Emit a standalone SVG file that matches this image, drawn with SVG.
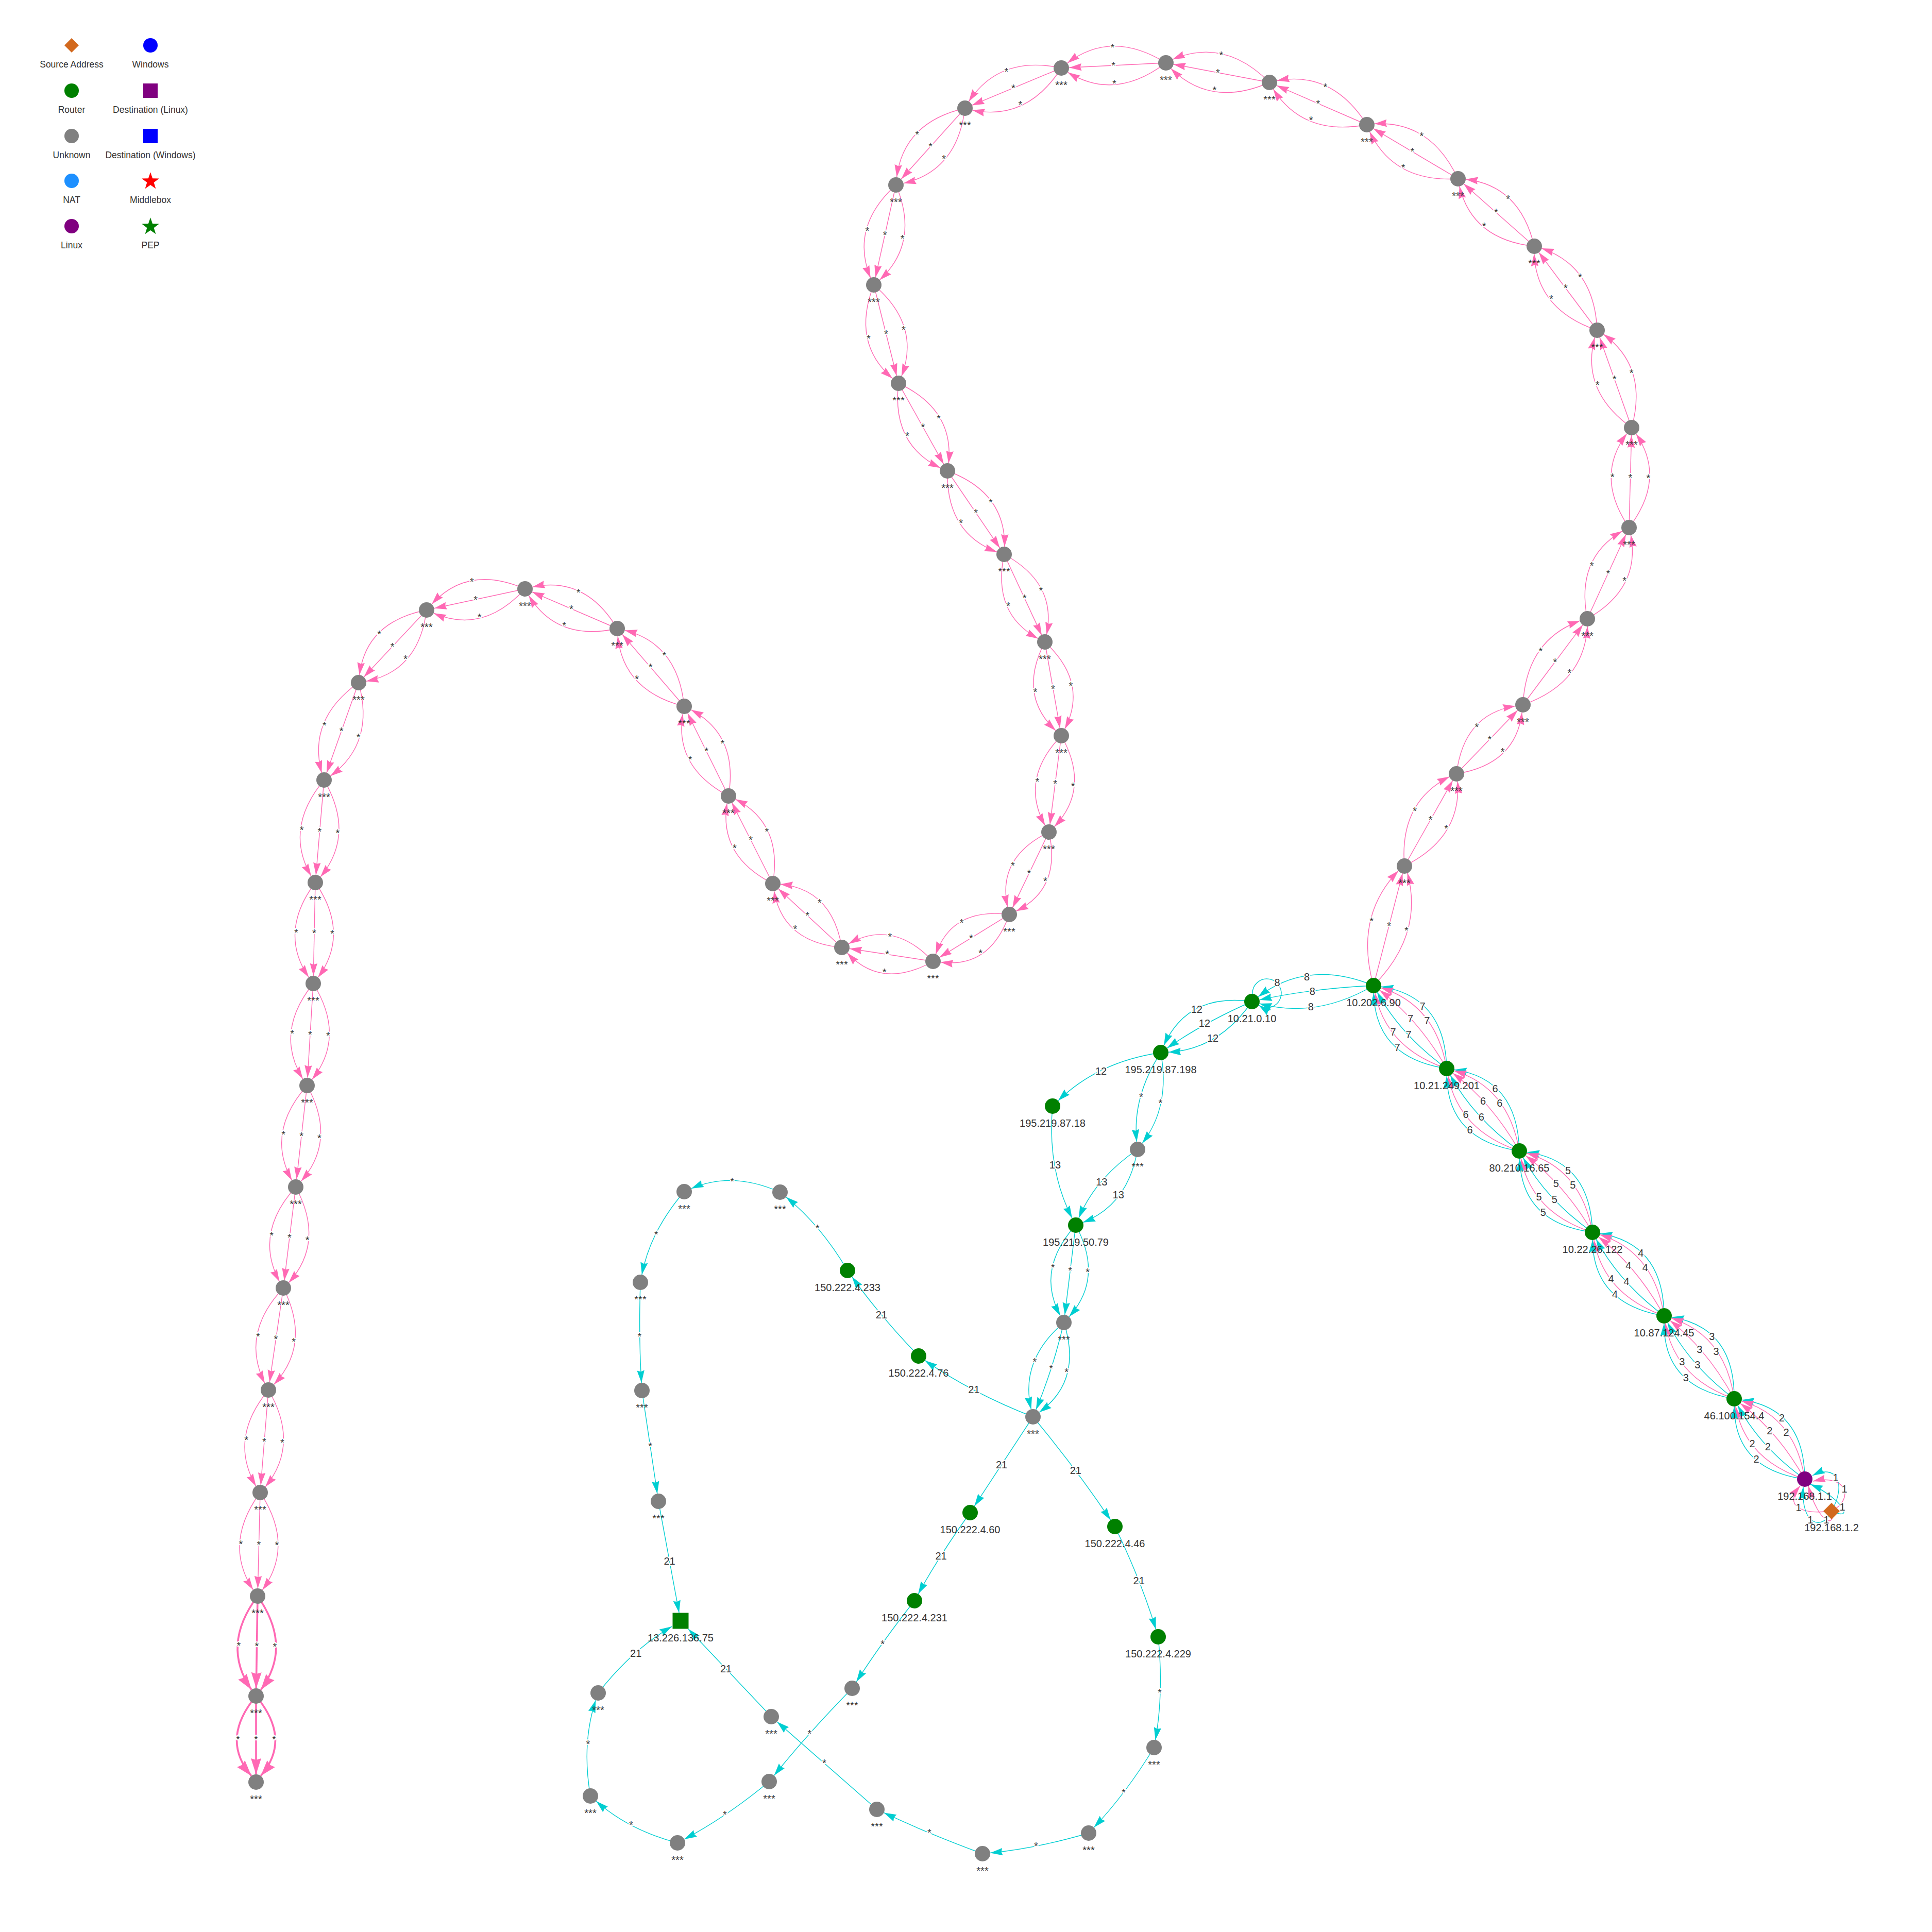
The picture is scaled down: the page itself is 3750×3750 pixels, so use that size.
<svg xmlns="http://www.w3.org/2000/svg" width="3750" height="3750" viewBox="0 0 3750 3750">
<style>
text{font-family:"Liberation Sans",Arial,sans-serif}
.pk{fill:none;stroke:#FF69B4;stroke-width:1.4;marker-end:url(#ap)}
.pt{fill:none;stroke:#FF69B4;stroke-width:3.6;marker-end:url(#apt)}
.cy{fill:none;stroke:#00CED1;stroke-width:1.4;marker-end:url(#ac)}
.el{font-size:20px;fill:#343434;text-anchor:middle;dominant-baseline:central;stroke:#fff;stroke-width:4px;paint-order:stroke;stroke-linejoin:round}
.nl{font-size:20px;fill:#343434;text-anchor:middle}
.lg{font-size:17.5px;fill:#343434;text-anchor:middle}
.gy{fill:#808080}.gr{fill:#008000}.pu{fill:#800080}
</style>
<defs>
<marker id="ap" viewBox="-25 -8 26 16" refX="0" refY="0" markerWidth="26" markerHeight="16" markerUnits="userSpaceOnUse" orient="auto"><path d="M0,0L-24,-7.2L-21.6,0L-24,7.2Z" fill="#FF69B4"/></marker>
<marker id="ac" viewBox="-25 -8 26 16" refX="0" refY="0" markerWidth="26" markerHeight="16" markerUnits="userSpaceOnUse" orient="auto"><path d="M0,0L-24,-7.2L-21.6,0L-24,7.2Z" fill="#00CED1"/></marker>
<marker id="apt" viewBox="-33 -11 34 22" refX="0" refY="0" markerWidth="34" markerHeight="22" markerUnits="userSpaceOnUse" orient="auto"><path d="M0,0L-31,-10L-28,0L-31,10Z" fill="#FF69B4"/></marker>
<polygon id="star" points="0,-17.7 4.11,-5.66 16.83,-5.47 6.66,2.16 10.4,14.32 0,7 -10.4,14.32 -6.66,2.16 -16.83,-5.47 -4.11,-5.66"/>
</defs>
<rect width="3750" height="3750" fill="#fff"/>

<g id="legend">
<polygon points="139,74 153,88 139,102 125,88" fill="#D2691E"/><text class="lg" x="139" y="131">Source Address</text>
<circle cx="292" cy="88" r="14" fill="#0000FF"/><text class="lg" x="292" y="131">Windows</text>
<circle cx="139" cy="176" r="14" fill="#008000"/><text class="lg" x="139" y="219">Router</text>
<rect x="278" y="162" width="28" height="28" fill="#800080"/><text class="lg" x="292" y="219">Destination (Linux)</text>
<circle cx="139" cy="264" r="14" fill="#808080"/><text class="lg" x="139" y="307">Unknown</text>
<rect x="278" y="250" width="28" height="28" fill="#0000FF"/><text class="lg" x="292" y="307">Destination (Windows)</text>
<circle cx="139" cy="351" r="14" fill="#1E90FF"/><text class="lg" x="139" y="394">NAT</text>
<use href="#star" transform="translate(292,352)" fill="#FF0000"/><text class="lg" x="292" y="394">Middlebox</text>
<circle cx="139" cy="439" r="14" fill="#800080"/><text class="lg" x="139" y="482">Linux</text>
<use href="#star" transform="translate(292,440)" fill="#008000"/><text class="lg" x="292" y="482">PEP</text>
</g>

<g id="connectors">
<!-- source to 192.168.1.1 -->
<path class="cy" d="M3555,2933C3585,2880 3565,2840 3518,2864"/>
<path class="pk" d="M3555,2933C3600,2910 3585,2860 3519,2875"/>
<path class="cy" d="M3555,2933C3605,2955 3570,2905 3514,2881"/>
<path class="pk" d="M3555,2933C3500,2940 3460,2925 3494,2884"/>
<path class="cy" d="M3555,2933C3540,2970 3495,2965 3500,2886"/>
<path class="pk" d="M3555,2933C3565,2965 3530,2960 3510,2884"/>
<text class="el" x="3563" y="2868">1</text>
<text class="el" x="3580" y="2890">1</text>
<text class="el" x="3576" y="2925">1</text>
<text class="el" x="3491" y="2926">1</text>
<text class="el" x="3514" y="2950">1</text>
<text class="el" x="3545" y="2950">1</text>

<!-- six-edge bundles -->
<g transform="translate(3503,2871) rotate(-131.3)">
<path class="cy" d="M0,0Q104,90 196.2,9.7"/><path class="pk" d="M0,0Q104,66 194.9,7.9"/><path class="pk" d="M0,0Q104,22 192.9,3"/><path class="cy" d="M0,0Q104,-24 193,-3.3"/><path class="pk" d="M0,0Q104,-62 194.7,-7.6"/><path class="cy" d="M0,0Q104,-90 196.2,-9.7"/>
<text class="el" transform="translate(119,45) rotate(131.3)">2</text><text class="el" transform="translate(92,33) rotate(131.3)">2</text><text class="el" transform="translate(116,11) rotate(131.3)">2</text><text class="el" transform="translate(95,-12) rotate(131.3)">2</text><text class="el" transform="translate(119,-31) rotate(131.3)">2</text><text class="el" transform="translate(91,-45) rotate(131.3)">2</text>
</g>
<g transform="translate(3366,2715) rotate(-130.2)">
<path class="cy" d="M0,0Q105,90 199.4,9.7"/><path class="pk" d="M0,0Q105,66 198.1,7.9"/><path class="pk" d="M0,0Q105,22 196.1,3"/><path class="cy" d="M0,0Q105,-24 196.2,-3.3"/><path class="pk" d="M0,0Q105,-62 197.9,-7.6"/><path class="cy" d="M0,0Q105,-90 199.4,-9.7"/>
<text class="el" transform="translate(120,45) rotate(130.2)">3</text><text class="el" transform="translate(93,33) rotate(130.2)">3</text><text class="el" transform="translate(117,11) rotate(130.2)">3</text><text class="el" transform="translate(96,-12) rotate(130.2)">3</text><text class="el" transform="translate(120,-31) rotate(130.2)">3</text><text class="el" transform="translate(92,-45) rotate(130.2)">3</text>
</g>
<g transform="translate(3230,2554) rotate(-130.6)">
<path class="cy" d="M0,0Q107,90 202.1,9.7"/><path class="pk" d="M0,0Q107,66 200.8,7.9"/><path class="pk" d="M0,0Q107,22 198.8,3"/><path class="cy" d="M0,0Q107,-24 198.9,-3.3"/><path class="pk" d="M0,0Q107,-62 200.6,-7.6"/><path class="cy" d="M0,0Q107,-90 202.1,-9.7"/>
<text class="el" transform="translate(122,45) rotate(130.6)">4</text><text class="el" transform="translate(95,33) rotate(130.6)">4</text><text class="el" transform="translate(119,11) rotate(130.6)">4</text><text class="el" transform="translate(98,-12) rotate(130.6)">4</text><text class="el" transform="translate(122,-31) rotate(130.6)">4</text><text class="el" transform="translate(94,-45) rotate(130.6)">4</text>
</g>
<g transform="translate(3091,2392) rotate(-131.95)">
<path class="cy" d="M0,0Q106,90 200.6,9.7"/><path class="pk" d="M0,0Q106,66 199.3,7.9"/><path class="pk" d="M0,0Q106,22 197.3,3"/><path class="cy" d="M0,0Q106,-24 197.4,-3.3"/><path class="pk" d="M0,0Q106,-62 199.1,-7.6"/><path class="cy" d="M0,0Q106,-90 200.6,-9.7"/>
<text class="el" transform="translate(121,45) rotate(131.95)">5</text><text class="el" transform="translate(94,33) rotate(131.95)">5</text><text class="el" transform="translate(118,11) rotate(131.95)">5</text><text class="el" transform="translate(97,-12) rotate(131.95)">5</text><text class="el" transform="translate(121,-31) rotate(131.95)">5</text><text class="el" transform="translate(93,-45) rotate(131.95)">5</text>
</g>
<g transform="translate(2949,2234) rotate(-131.4)">
<path class="cy" d="M0,0Q107,90 201.9,9.7"/><path class="pk" d="M0,0Q107,66 200.6,7.9"/><path class="pk" d="M0,0Q107,22 198.6,3"/><path class="cy" d="M0,0Q107,-24 198.7,-3.3"/><path class="pk" d="M0,0Q107,-62 200.4,-7.6"/><path class="cy" d="M0,0Q107,-90 201.9,-9.7"/>
<text class="el" transform="translate(122,45) rotate(131.4)">6</text><text class="el" transform="translate(95,33) rotate(131.4)">6</text><text class="el" transform="translate(119,11) rotate(131.4)">6</text><text class="el" transform="translate(98,-12) rotate(131.4)">6</text><text class="el" transform="translate(122,-31) rotate(131.4)">6</text><text class="el" transform="translate(94,-45) rotate(131.4)">6</text>
</g>
<g transform="translate(2808,2074) rotate(-131.41)">
<path class="cy" d="M0,0Q107,90 203.3,9.7"/><path class="pk" d="M0,0Q107,66 202,7.9"/><path class="pk" d="M0,0Q107,22 200,3"/><path class="cy" d="M0,0Q107,-24 200.1,-3.3"/><path class="pk" d="M0,0Q107,-62 201.8,-7.6"/><path class="cy" d="M0,0Q107,-90 203.3,-9.7"/>
<text class="el" transform="translate(122,45) rotate(131.41)">7</text><text class="el" transform="translate(95,33) rotate(131.41)">7</text><text class="el" transform="translate(119,11) rotate(131.41)">7</text><text class="el" transform="translate(98,-12) rotate(131.41)">7</text><text class="el" transform="translate(122,-31) rotate(131.41)">7</text><text class="el" transform="translate(94,-45) rotate(131.41)">7</text>
</g>

<!-- cyan path onwards -->
<g transform="translate(2666,1913) rotate(172.52)">
<path class="cy" d="M0,0Q119,68 225,7.4"/><path class="cy" d="M0,0Q119,10 223,1.3"/><path class="cy" d="M0,0Q119,-50 224.2,-5.8"/>
<text class="el" transform="translate(126,34) rotate(-172.52)">8</text><text class="el" transform="translate(119,5) rotate(-172.52)">8</text><text class="el" transform="translate(126,-25) rotate(-172.52)">8</text>
</g>
<path class="cy" d="M2431,1929A28,28 0 1 1 2443.2,1951.1"/>
<text class="el" x="2479" y="1907">8</text>
<g transform="translate(2430,1944) rotate(150.78)">
<path class="cy" d="M0,0Q101,76 190.8,9"/><path class="cy" d="M0,0Q101,10 187.9,1.5"/><path class="cy" d="M0,0Q101,-50 189.4,-6.7"/>
<text class="el" transform="translate(101,39) rotate(-150.78)">12</text><text class="el" transform="translate(101,8) rotate(-150.78)">12</text><text class="el" transform="translate(101,-25) rotate(-150.78)">12</text>
</g>
<g transform="translate(2253,2043) rotate(153.65)">
<path class="cy" d="M0,0Q117,38 220,4.6"/>
<text class="el" transform="translate(120,19) rotate(-153.65)">12</text>
</g>
<g transform="translate(2253,2043) rotate(103.46)">
<path class="cy" d="M0,0Q97,34 179.2,5"/><path class="cy" d="M0,0Q97,-43 179.6,-6.1"/>
<text class="el" transform="translate(93,17) rotate(-103.46)">*</text><text class="el" transform="translate(95,-22) rotate(-103.46)">*</text>
</g>
<g transform="translate(2043,2147) rotate(78.98)">
<path class="cy" d="M0,0Q118,34 220.6,4.3"/>
<text class="el" transform="translate(113,17) rotate(-78.98)">13</text>
</g>
<g transform="translate(2208,2231) rotate(129.23)">
<path class="cy" d="M0,0Q95,28 175.4,4.2"/><path class="cy" d="M0,0Q95,-54 176.8,-7.4"/>
<text class="el" transform="translate(93,14) rotate(-129.23)">13</text><text class="el" transform="translate(92,-27) rotate(-129.23)">13</text>
</g>
<g transform="translate(2088,2378) rotate(96.94)">
<path class="cy" d="M0,0Q95,67 178.1,8.6"/><path class="cy" d="M0,0L175.4,0"/><path class="cy" d="M0,0Q95,-67 178.1,-8.6"/>
<text class="el" transform="translate(87,34) rotate(-96.94)">*</text><text class="el" transform="translate(89,0) rotate(-96.94)">*</text><text class="el" transform="translate(88,-34) rotate(-96.94)">*</text>
</g>
<g transform="translate(2065,2567) rotate(108.15)">
<path class="cy" d="M0,0Q96,59 179.8,7.9"/><path class="cy" d="M0,0Q96,-8 177.6,-1.2"/><path class="cy" d="M0,0Q96,-70 180.5,-8.8"/>
<text class="el" transform="translate(90,30) rotate(-108.15)">*</text><text class="el" transform="translate(92,-4) rotate(-108.15)">*</text><text class="el" transform="translate(90,-35) rotate(-108.15)">*</text>
</g>
<g transform="translate(2005,2750) rotate(-152.01)"><path class="cy" d="M0,0Q126,-15 236.4,-1.8"/><text class="el" transform="translate(126,-7) rotate(152.01)">21</text></g>
<g transform="translate(1783,2632) rotate(-129.74)"><path class="cy" d="M0,0Q108,-8 200.9,-1.1"/><text class="el" transform="translate(108,-4) rotate(129.74)">21</text></g>
<g transform="translate(1645,2466) rotate(-130.76)"><path class="cy" d="M0,0Q100,18 185.7,2.7"/><text class="el" transform="translate(100,9) rotate(130.76)">*</text></g>
<g transform="translate(1514,2314) rotate(-179.69)"><path class="cy" d="M0,0Q93,41 172.3,6.1"/><text class="el" transform="translate(93,20) rotate(179.69)">*</text></g>
<g transform="translate(1328,2313) rotate(115.78)"><path class="cy" d="M0,0Q98,26 181,3.8"/><text class="el" transform="translate(98,13) rotate(-115.78)">*</text></g>
<g transform="translate(1243,2489) rotate(89.18)"><path class="cy" d="M0,0Q105,5 195,0.7"/><text class="el" transform="translate(105,3) rotate(-89.18)">*</text></g>
<g transform="translate(1246,2699) rotate(81.53)"><path class="cy" d="M0,0L202.4,0"/><text class="el" transform="translate(109,0) rotate(-81.53)">*</text></g>
<g transform="translate(1278,2914) rotate(79.5)"><path class="cy" d="M0,0L220,0"/><text class="el" transform="translate(118,0) rotate(-79.5)">21</text></g>
<g transform="translate(2005,2750) rotate(123.26)"><path class="cy" d="M0,0L207.4,0"/><text class="el" transform="translate(111,0) rotate(-123.26)">21</text></g>
<g transform="translate(1883,2936) rotate(122.28)"><path class="cy" d="M0,0Q101,6 187.2,0.9"/><text class="el" transform="translate(101,3) rotate(-122.28)">21</text></g>
<g transform="translate(1775,3107) rotate(125.44)"><path class="cy" d="M0,0Q104,5 193.7,0.7"/><text class="el" transform="translate(104,2) rotate(-125.44)">*</text></g>
<g transform="translate(1654,3277) rotate(131.65)"><path class="cy" d="M0,0Q121,6 227.2,0.7"/><text class="el" transform="translate(121,3) rotate(-131.65)">*</text></g>
<g transform="translate(1493,3458) rotate(146.24)"><path class="cy" d="M0,0Q107,-11 199.1,-1.5"/><text class="el" transform="translate(107,-5) rotate(-146.24)">*</text></g>
<g transform="translate(1315,3577) rotate(-151.7)"><path class="cy" d="M0,0Q96,-23 177.3,-3.5"/><text class="el" transform="translate(96,-12) rotate(151.7)">*</text></g>
<g transform="translate(1146,3486) rotate(-85.71)"><path class="cy" d="M0,0Q100,-25 186,-3.7"/><text class="el" transform="translate(100,-12) rotate(85.71)">*</text></g>
<g transform="translate(1161,3286) rotate(-41.19)"><path class="cy" d="M0,0Q106,-20 192.6,-2.8"/><text class="el" transform="translate(106,-10) rotate(41.19)">21</text></g>
<g transform="translate(2005,2750) rotate(53.26)"><path class="cy" d="M0,0Q133,-7 250.8,-0.8"/><text class="el" transform="translate(133,-4) rotate(-53.26)">21</text></g>
<g transform="translate(2164,2963) rotate(68.57)"><path class="cy" d="M0,0Q115,-9 214.9,-1.2"/><text class="el" transform="translate(115,-5) rotate(-68.57)">21</text></g>
<g transform="translate(2248,3177) rotate(92.13)"><path class="cy" d="M0,0Q108,-15 200.2,-2.1"/><text class="el" transform="translate(108,-7) rotate(-92.13)">*</text></g>
<g transform="translate(2240,3392) rotate(127.42)"><path class="cy" d="M0,0Q105,-11 194,-1.6"/><text class="el" transform="translate(105,-6) rotate(-127.42)">*</text></g>
<g transform="translate(2113,3558) rotate(169.01)"><path class="cy" d="M0,0Q105,-10 194.8,-1.4"/><text class="el" transform="translate(105,-5) rotate(-169.01)">*</text></g>
<g transform="translate(1907,3598) rotate(-157.24)"><path class="cy" d="M0,0Q111,-5 207.3,-0.7"/><text class="el" transform="translate(111,-2) rotate(157.24)">*</text></g>
<g transform="translate(1702,3512) rotate(-138.72)"><path class="cy" d="M0,0L257.8,0"/><text class="el" transform="translate(136,0) rotate(138.72)">*</text></g>
<g transform="translate(1497,3332) rotate(-133.42)"><path class="cy" d="M0,0L234,0"/><text class="el" transform="translate(128,0) rotate(133.42)">21</text></g>

<!-- pink chain -->
<g transform="translate(2666,1913) rotate(-75.5)"><path class="pk" d="M0,0Q120,70 228,9"/><path class="pk" d="M0,0L225,0"/><path class="pk" d="M0,0Q120,-70 228,-9"/><text class="el" transform="translate(120,35) rotate(75.5)">*</text><text class="el" transform="translate(120,0) rotate(75.5)">*</text><text class="el" transform="translate(120,-35) rotate(75.5)">*</text></g>
<g transform="translate(2726,1681) rotate(-60.57)"><path class="pk" d="M0,0Q103,70 194,9"/><path class="pk" d="M0,0L191,0"/><path class="pk" d="M0,0Q103,-70 194,-9"/><text class="el" transform="translate(103,35) rotate(60.57)">*</text><text class="el" transform="translate(103,0) rotate(60.57)">*</text><text class="el" transform="translate(103,-35) rotate(60.57)">*</text></g>
<g transform="translate(2827,1502) rotate(-46.09)"><path class="pk" d="M0,0Q93,70 174,9"/><path class="pk" d="M0,0L171,0"/><path class="pk" d="M0,0Q93,-70 174,-9"/><text class="el" transform="translate(93,35) rotate(46.09)">*</text><text class="el" transform="translate(93,0) rotate(46.09)">*</text><text class="el" transform="translate(93,-35) rotate(46.09)">*</text></g>
<g transform="translate(2956,1368) rotate(-53.18)"><path class="pk" d="M0,0Q104,70 197,9"/><path class="pk" d="M0,0L194,0"/><path class="pk" d="M0,0Q104,-70 197,-9"/><text class="el" transform="translate(104,35) rotate(53.18)">*</text><text class="el" transform="translate(104,0) rotate(53.18)">*</text><text class="el" transform="translate(104,-35) rotate(53.18)">*</text></g>
<g transform="translate(3081,1201) rotate(-65.41)"><path class="pk" d="M0,0Q97,70 183,9"/><path class="pk" d="M0,0L180,0"/><path class="pk" d="M0,0Q97,-70 183,-9"/><text class="el" transform="translate(97,35) rotate(65.41)">*</text><text class="el" transform="translate(97,0) rotate(65.41)">*</text><text class="el" transform="translate(97,-35) rotate(65.41)">*</text></g>
<g transform="translate(3162,1024) rotate(-88.52)"><path class="pk" d="M0,0Q97,70 182,9"/><path class="pk" d="M0,0L179,0"/><path class="pk" d="M0,0Q97,-70 182,-9"/><text class="el" transform="translate(97,35) rotate(88.52)">*</text><text class="el" transform="translate(97,0) rotate(88.52)">*</text><text class="el" transform="translate(97,-35) rotate(88.52)">*</text></g>
<g transform="translate(3167,830) rotate(-109.52)"><path class="pk" d="M0,0Q100,70 189,9"/><path class="pk" d="M0,0L186,0"/><path class="pk" d="M0,0Q100,-70 189,-9"/><text class="el" transform="translate(100,35) rotate(109.52)">*</text><text class="el" transform="translate(100,0) rotate(109.52)">*</text><text class="el" transform="translate(100,-35) rotate(109.52)">*</text></g>
<g transform="translate(3100,641) rotate(-126.82)"><path class="pk" d="M0,0Q102,70 192,9"/><path class="pk" d="M0,0L189,0"/><path class="pk" d="M0,0Q102,-70 192,-9"/><text class="el" transform="translate(102,35) rotate(126.82)">*</text><text class="el" transform="translate(102,0) rotate(126.82)">*</text><text class="el" transform="translate(102,-35) rotate(126.82)">*</text></g>
<g transform="translate(2978,478) rotate(-138.49)"><path class="pk" d="M0,0Q99,70 186,9"/><path class="pk" d="M0,0L183,0"/><path class="pk" d="M0,0Q99,-70 186,-9"/><text class="el" transform="translate(99,35) rotate(138.49)">*</text><text class="el" transform="translate(99,0) rotate(138.49)">*</text><text class="el" transform="translate(99,-35) rotate(138.49)">*</text></g>
<g transform="translate(2830,347) rotate(-149.32)"><path class="pk" d="M0,0Q103,70 194,9"/><path class="pk" d="M0,0L191,0"/><path class="pk" d="M0,0Q103,-70 194,-9"/><text class="el" transform="translate(103,35) rotate(149.32)">*</text><text class="el" transform="translate(103,0) rotate(149.32)">*</text><text class="el" transform="translate(103,-35) rotate(149.32)">*</text></g>
<g transform="translate(2653,242) rotate(-156.54)"><path class="pk" d="M0,0Q103,70 194,9"/><path class="pk" d="M0,0L191,0"/><path class="pk" d="M0,0Q103,-70 194,-9"/><text class="el" transform="translate(103,35) rotate(156.54)">*</text><text class="el" transform="translate(103,0) rotate(156.54)">*</text><text class="el" transform="translate(103,-35) rotate(156.54)">*</text></g>
<g transform="translate(2464,160) rotate(-169.29)"><path class="pk" d="M0,0Q102,70 193,9"/><path class="pk" d="M0,0L190,0"/><path class="pk" d="M0,0Q102,-70 193,-9"/><text class="el" transform="translate(102,35) rotate(169.29)">*</text><text class="el" transform="translate(102,0) rotate(169.29)">*</text><text class="el" transform="translate(102,-35) rotate(169.29)">*</text></g>
<g transform="translate(2263,122) rotate(177.18)"><path class="pk" d="M0,0Q102,70 191,9"/><path class="pk" d="M0,0L188,0"/><path class="pk" d="M0,0Q102,-70 191,-9"/><text class="el" transform="translate(102,35) rotate(-177.18)">*</text><text class="el" transform="translate(102,0) rotate(-177.18)">*</text><text class="el" transform="translate(102,-35) rotate(-177.18)">*</text></g>
<g transform="translate(2060,132) rotate(157.35)"><path class="pk" d="M0,0Q101,70 191,9"/><path class="pk" d="M0,0L188,0"/><path class="pk" d="M0,0Q101,-70 191,-9"/><text class="el" transform="translate(101,35) rotate(-157.35)">*</text><text class="el" transform="translate(101,0) rotate(-157.35)">*</text><text class="el" transform="translate(101,-35) rotate(-157.35)">*</text></g>
<g transform="translate(1873,210) rotate(131.97)"><path class="pk" d="M0,0Q100,70 188,9"/><path class="pk" d="M0,0L185,0"/><path class="pk" d="M0,0Q100,-70 188,-9"/><text class="el" transform="translate(100,35) rotate(-131.97)">*</text><text class="el" transform="translate(100,0) rotate(-131.97)">*</text><text class="el" transform="translate(100,-35) rotate(-131.97)">*</text></g>
<g transform="translate(1739,359) rotate(102.5)"><path class="pk" d="M0,0Q99,70 187,9"/><path class="pk" d="M0,0L184,0"/><path class="pk" d="M0,0Q99,-70 187,-9"/><text class="el" transform="translate(99,35) rotate(-102.5)">*</text><text class="el" transform="translate(99,0) rotate(-102.5)">*</text><text class="el" transform="translate(99,-35) rotate(-102.5)">*</text></g>
<g transform="translate(1696,553) rotate(75.89)"><path class="pk" d="M0,0Q98,70 185,9"/><path class="pk" d="M0,0L182,0"/><path class="pk" d="M0,0Q98,-70 185,-9"/><text class="el" transform="translate(98,35) rotate(-75.89)">*</text><text class="el" transform="translate(98,0) rotate(-75.89)">*</text><text class="el" transform="translate(98,-35) rotate(-75.89)">*</text></g>
<g transform="translate(1744,744) rotate(60.8)"><path class="pk" d="M0,0Q97,70 183,9"/><path class="pk" d="M0,0L180,0"/><path class="pk" d="M0,0Q97,-70 183,-9"/><text class="el" transform="translate(97,35) rotate(-60.8)">*</text><text class="el" transform="translate(97,0) rotate(-60.8)">*</text><text class="el" transform="translate(97,-35) rotate(-60.8)">*</text></g>
<g transform="translate(1839,914) rotate(55.82)"><path class="pk" d="M0,0Q98,70 184,9"/><path class="pk" d="M0,0L181,0"/><path class="pk" d="M0,0Q98,-70 184,-9"/><text class="el" transform="translate(98,35) rotate(-55.82)">*</text><text class="el" transform="translate(98,0) rotate(-55.82)">*</text><text class="el" transform="translate(98,-35) rotate(-55.82)">*</text></g>
<g transform="translate(1949,1076) rotate(65.07)"><path class="pk" d="M0,0Q94,70 176,9"/><path class="pk" d="M0,0L173,0"/><path class="pk" d="M0,0Q94,-70 176,-9"/><text class="el" transform="translate(94,35) rotate(-65.07)">*</text><text class="el" transform="translate(94,0) rotate(-65.07)">*</text><text class="el" transform="translate(94,-35) rotate(-65.07)">*</text></g>
<g transform="translate(2028,1246) rotate(80.03)"><path class="pk" d="M0,0Q92,70 173,9"/><path class="pk" d="M0,0L170,0"/><path class="pk" d="M0,0Q92,-70 173,-9"/><text class="el" transform="translate(92,35) rotate(-80.03)">*</text><text class="el" transform="translate(92,0) rotate(-80.03)">*</text><text class="el" transform="translate(92,-35) rotate(-80.03)">*</text></g>
<g transform="translate(2060,1428) rotate(97.31)"><path class="pk" d="M0,0Q94,70 177,9"/><path class="pk" d="M0,0L174,0"/><path class="pk" d="M0,0Q94,-70 177,-9"/><text class="el" transform="translate(94,35) rotate(-97.31)">*</text><text class="el" transform="translate(94,0) rotate(-97.31)">*</text><text class="el" transform="translate(94,-35) rotate(-97.31)">*</text></g>
<g transform="translate(2036,1615) rotate(115.7)"><path class="pk" d="M0,0Q89,70 166,9"/><path class="pk" d="M0,0L163,0"/><path class="pk" d="M0,0Q89,-70 166,-9"/><text class="el" transform="translate(89,35) rotate(-115.7)">*</text><text class="el" transform="translate(89,0) rotate(-115.7)">*</text><text class="el" transform="translate(89,-35) rotate(-115.7)">*</text></g>
<g transform="translate(1959,1775) rotate(148.41)"><path class="pk" d="M0,0Q87,70 162,9"/><path class="pk" d="M0,0L159,0"/><path class="pk" d="M0,0Q87,-70 162,-9"/><text class="el" transform="translate(87,35) rotate(-148.41)">*</text><text class="el" transform="translate(87,0) rotate(-148.41)">*</text><text class="el" transform="translate(87,-35) rotate(-148.41)">*</text></g>
<g transform="translate(1811,1866) rotate(-171.33)"><path class="pk" d="M0,0Q90,70 167,9"/><path class="pk" d="M0,0L164,0"/><path class="pk" d="M0,0Q90,-70 167,-9"/><text class="el" transform="translate(90,35) rotate(171.33)">*</text><text class="el" transform="translate(90,0) rotate(171.33)">*</text><text class="el" transform="translate(90,-35) rotate(171.33)">*</text></g>
<g transform="translate(1634,1839) rotate(-137.22)"><path class="pk" d="M0,0Q91,70 171,9"/><path class="pk" d="M0,0L168,0"/><path class="pk" d="M0,0Q91,-70 171,-9"/><text class="el" transform="translate(91,35) rotate(137.22)">*</text><text class="el" transform="translate(91,0) rotate(137.22)">*</text><text class="el" transform="translate(91,-35) rotate(137.22)">*</text></g>
<g transform="translate(1500,1715) rotate(-116.83)"><path class="pk" d="M0,0Q95,70 179,9"/><path class="pk" d="M0,0L176,0"/><path class="pk" d="M0,0Q95,-70 179,-9"/><text class="el" transform="translate(95,35) rotate(116.83)">*</text><text class="el" transform="translate(95,0) rotate(116.83)">*</text><text class="el" transform="translate(95,-35) rotate(116.83)">*</text></g>
<g transform="translate(1414,1545) rotate(-116.3)"><path class="pk" d="M0,0Q97,70 182,9"/><path class="pk" d="M0,0L179,0"/><path class="pk" d="M0,0Q97,-70 182,-9"/><text class="el" transform="translate(97,35) rotate(116.3)">*</text><text class="el" transform="translate(97,0) rotate(116.3)">*</text><text class="el" transform="translate(97,-35) rotate(116.3)">*</text></g>
<g transform="translate(1328,1371) rotate(-130.73)"><path class="pk" d="M0,0Q100,70 187,9"/><path class="pk" d="M0,0L184,0"/><path class="pk" d="M0,0Q100,-70 187,-9"/><text class="el" transform="translate(100,35) rotate(130.73)">*</text><text class="el" transform="translate(100,0) rotate(130.73)">*</text><text class="el" transform="translate(100,-35) rotate(130.73)">*</text></g>
<g transform="translate(1198,1220) rotate(-156.72)"><path class="pk" d="M0,0Q97,70 183,9"/><path class="pk" d="M0,0L180,0"/><path class="pk" d="M0,0Q97,-70 183,-9"/><text class="el" transform="translate(97,35) rotate(156.72)">*</text><text class="el" transform="translate(97,0) rotate(156.72)">*</text><text class="el" transform="translate(97,-35) rotate(156.72)">*</text></g>
<g transform="translate(1019,1143) rotate(167.89)"><path class="pk" d="M0,0Q98,70 183,9"/><path class="pk" d="M0,0L180,0"/><path class="pk" d="M0,0Q98,-70 183,-9"/><text class="el" transform="translate(98,35) rotate(-167.89)">*</text><text class="el" transform="translate(98,0) rotate(-167.89)">*</text><text class="el" transform="translate(98,-35) rotate(-167.89)">*</text></g>
<g transform="translate(828,1184) rotate(133.11)"><path class="pk" d="M0,0Q97,70 181,9"/><path class="pk" d="M0,0L178,0"/><path class="pk" d="M0,0Q97,-70 181,-9"/><text class="el" transform="translate(97,35) rotate(-133.11)">*</text><text class="el" transform="translate(97,0) rotate(-133.11)">*</text><text class="el" transform="translate(97,-35) rotate(-133.11)">*</text></g>
<g transform="translate(696,1325) rotate(109.52)"><path class="pk" d="M0,0Q100,70 189,9"/><path class="pk" d="M0,0L186,0"/><path class="pk" d="M0,0Q100,-70 189,-9"/><text class="el" transform="translate(100,35) rotate(-109.52)">*</text><text class="el" transform="translate(100,0) rotate(-109.52)">*</text><text class="el" transform="translate(100,-35) rotate(-109.52)">*</text></g>
<g transform="translate(629,1514) rotate(94.88)"><path class="pk" d="M0,0Q100,70 188,9"/><path class="pk" d="M0,0L185,0"/><path class="pk" d="M0,0Q100,-70 188,-9"/><text class="el" transform="translate(100,35) rotate(-94.88)">*</text><text class="el" transform="translate(100,0) rotate(-94.88)">*</text><text class="el" transform="translate(100,-35) rotate(-94.88)">*</text></g>
<g transform="translate(612,1713) rotate(91.17)"><path class="pk" d="M0,0Q98,70 184,9"/><path class="pk" d="M0,0L181,0"/><path class="pk" d="M0,0Q98,-70 184,-9"/><text class="el" transform="translate(98,35) rotate(-91.17)">*</text><text class="el" transform="translate(98,0) rotate(-91.17)">*</text><text class="el" transform="translate(98,-35) rotate(-91.17)">*</text></g>
<g transform="translate(608,1909) rotate(93.47)"><path class="pk" d="M0,0Q99,70 186,9"/><path class="pk" d="M0,0L183,0"/><path class="pk" d="M0,0Q99,-70 186,-9"/><text class="el" transform="translate(99,35) rotate(-93.47)">*</text><text class="el" transform="translate(99,0) rotate(-93.47)">*</text><text class="el" transform="translate(99,-35) rotate(-93.47)">*</text></g>
<g transform="translate(596,2107) rotate(96.37)"><path class="pk" d="M0,0Q99,70 186,9"/><path class="pk" d="M0,0L183,0"/><path class="pk" d="M0,0Q99,-70 186,-9"/><text class="el" transform="translate(99,35) rotate(-96.37)">*</text><text class="el" transform="translate(99,0) rotate(-96.37)">*</text><text class="el" transform="translate(99,-35) rotate(-96.37)">*</text></g>
<g transform="translate(574,2304) rotate(96.98)"><path class="pk" d="M0,0Q99,70 186,9"/><path class="pk" d="M0,0L183,0"/><path class="pk" d="M0,0Q99,-70 186,-9"/><text class="el" transform="translate(99,35) rotate(-96.98)">*</text><text class="el" transform="translate(99,0) rotate(-96.98)">*</text><text class="el" transform="translate(99,-35) rotate(-96.98)">*</text></g>
<g transform="translate(550,2500) rotate(98.33)"><path class="pk" d="M0,0Q100,70 188,9"/><path class="pk" d="M0,0L185,0"/><path class="pk" d="M0,0Q100,-70 188,-9"/><text class="el" transform="translate(100,35) rotate(-98.33)">*</text><text class="el" transform="translate(100,0) rotate(-98.33)">*</text><text class="el" transform="translate(100,-35) rotate(-98.33)">*</text></g>
<g transform="translate(521,2698) rotate(94.6)"><path class="pk" d="M0,0Q100,70 188,9"/><path class="pk" d="M0,0L185,0"/><path class="pk" d="M0,0Q100,-70 188,-9"/><text class="el" transform="translate(100,35) rotate(-94.6)">*</text><text class="el" transform="translate(100,0) rotate(-94.6)">*</text><text class="el" transform="translate(100,-35) rotate(-94.6)">*</text></g>
<g transform="translate(505,2897) rotate(91.42)"><path class="pk" d="M0,0Q101,70 189,9"/><path class="pk" d="M0,0L186,0"/><path class="pk" d="M0,0Q101,-70 189,-9"/><text class="el" transform="translate(101,35) rotate(-91.42)">*</text><text class="el" transform="translate(101,0) rotate(-91.42)">*</text><text class="el" transform="translate(101,-35) rotate(-91.42)">*</text></g>
<g transform="translate(500,3098) rotate(90.89)"><path class="pt" d="M0,0Q97,70 182,9"/><path class="pt" d="M0,0L179,0"/><path class="pt" d="M0,0Q97,-70 182,-9"/><text class="el" transform="translate(97,35) rotate(-90.89)">*</text><text class="el" transform="translate(97,0) rotate(-90.89)">*</text><text class="el" transform="translate(97,-35) rotate(-90.89)">*</text></g>
<g transform="translate(497,3292) rotate(90)"><path class="pt" d="M0,0Q84,70 155,9"/><path class="pt" d="M0,0L152,0"/><path class="pt" d="M0,0Q84,-70 155,-9"/><text class="el" transform="translate(84,35) rotate(-90)">*</text><text class="el" transform="translate(84,0) rotate(-90)">*</text><text class="el" transform="translate(84,-35) rotate(-90)">*</text></g>
</g>

<g id="nodes">
<g id="n-192-168-1-2"><polygon points="3555,2917 3571,2933 3555,2949 3539,2933" fill="#D2691E"/><text class="nl" x="3555" y="2972">192.168.1.2</text></g>
<g id="n-192-168-1-1"><circle class="pu" cx="3503" cy="2871" r="15"/><text class="nl" x="3503" y="2911">192.168.1.1</text></g>
<g id="n-46-100-154-4"><circle class="gr" cx="3366" cy="2715" r="15"/><text class="nl" x="3366" y="2755">46.100.154.4</text></g>
<g id="n-10-87-124-45"><circle class="gr" cx="3230" cy="2554" r="15"/><text class="nl" x="3230" y="2594">10.87.124.45</text></g>
<g id="n-10-22-26-122"><circle class="gr" cx="3091" cy="2392" r="15"/><text class="nl" x="3091" y="2432">10.22.26.122</text></g>
<g id="n-80-210-16-65"><circle class="gr" cx="2949" cy="2234" r="15"/><text class="nl" x="2949" y="2274">80.210.16.65</text></g>
<g id="n-10-21-249-201"><circle class="gr" cx="2808" cy="2074" r="15"/><text class="nl" x="2808" y="2114">10.21.249.201</text></g>
<g id="n-10-202-6-90"><circle class="gr" cx="2666" cy="1913" r="15"/><text class="nl" x="2666" y="1953">10.202.6.90</text></g>
<g id="n-10-21-0-10"><circle class="gr" cx="2430" cy="1944" r="15"/><text class="nl" x="2430" y="1984">10.21.0.10</text></g>
<g id="n-195-219-87-198"><circle class="gr" cx="2253" cy="2043" r="15"/><text class="nl" x="2253" y="2083">195.219.87.198</text></g>
<g id="n-195-219-87-18"><circle class="gr" cx="2043" cy="2147" r="15"/><text class="nl" x="2043" y="2187">195.219.87.18</text></g>
<g id="n-u-g1"><circle class="gy" cx="2208" cy="2231" r="15"/><text class="nl" x="2208" y="2271">***</text></g>
<g id="n-195-219-50-79"><circle class="gr" cx="2088" cy="2378" r="15"/><text class="nl" x="2088" y="2418">195.219.50.79</text></g>
<g id="n-u-g2"><circle class="gy" cx="2065" cy="2567" r="15"/><text class="nl" x="2065" y="2607">***</text></g>
<g id="n-u-hub"><circle class="gy" cx="2005" cy="2750" r="15"/><text class="nl" x="2005" y="2790">***</text></g>
<g id="n-150-222-4-76"><circle class="gr" cx="1783" cy="2632" r="15"/><text class="nl" x="1783" y="2672">150.222.4.76</text></g>
<g id="n-150-222-4-233"><circle class="gr" cx="1645" cy="2466" r="15"/><text class="nl" x="1645" y="2506">150.222.4.233</text></g>
<g id="n-u-b1"><circle class="gy" cx="1514" cy="2314" r="15"/><text class="nl" x="1514" y="2354">***</text></g>
<g id="n-u-b2"><circle class="gy" cx="1328" cy="2313" r="15"/><text class="nl" x="1328" y="2353">***</text></g>
<g id="n-u-b3"><circle class="gy" cx="1243" cy="2489" r="15"/><text class="nl" x="1243" y="2529">***</text></g>
<g id="n-u-b4"><circle class="gy" cx="1246" cy="2699" r="15"/><text class="nl" x="1246" y="2739">***</text></g>
<g id="n-u-b5"><circle class="gy" cx="1278" cy="2914" r="15"/><text class="nl" x="1278" y="2954">***</text></g>
<g id="n-13-226-136-75"><rect x="1305.5" y="3130.5" width="31" height="31" fill="#008000"/><text class="nl" x="1321" y="3186">13.226.136.75</text></g>
<g id="n-150-222-4-60"><circle class="gr" cx="1883" cy="2936" r="15"/><text class="nl" x="1883" y="2976">150.222.4.60</text></g>
<g id="n-150-222-4-231"><circle class="gr" cx="1775" cy="3107" r="15"/><text class="nl" x="1775" y="3147">150.222.4.231</text></g>
<g id="n-u-c1"><circle class="gy" cx="1654" cy="3277" r="15"/><text class="nl" x="1654" y="3317">***</text></g>
<g id="n-u-c2"><circle class="gy" cx="1493" cy="3458" r="15"/><text class="nl" x="1493" y="3498">***</text></g>
<g id="n-u-c3"><circle class="gy" cx="1315" cy="3577" r="15"/><text class="nl" x="1315" y="3617">***</text></g>
<g id="n-u-c4"><circle class="gy" cx="1146" cy="3486" r="15"/><text class="nl" x="1146" y="3526">***</text></g>
<g id="n-u-c5"><circle class="gy" cx="1161" cy="3286" r="15"/><text class="nl" x="1161" y="3326">***</text></g>
<g id="n-150-222-4-46"><circle class="gr" cx="2164" cy="2963" r="15"/><text class="nl" x="2164" y="3003">150.222.4.46</text></g>
<g id="n-150-222-4-229"><circle class="gr" cx="2248" cy="3177" r="15"/><text class="nl" x="2248" y="3217">150.222.4.229</text></g>
<g id="n-u-e1"><circle class="gy" cx="2240" cy="3392" r="15"/><text class="nl" x="2240" y="3432">***</text></g>
<g id="n-u-e2"><circle class="gy" cx="2113" cy="3558" r="15"/><text class="nl" x="2113" y="3598">***</text></g>
<g id="n-u-e3"><circle class="gy" cx="1907" cy="3598" r="15"/><text class="nl" x="1907" y="3638">***</text></g>
<g id="n-u-e4"><circle class="gy" cx="1702" cy="3512" r="15"/><text class="nl" x="1702" y="3552">***</text></g>
<g id="n-u-e5"><circle class="gy" cx="1497" cy="3332" r="15"/><text class="nl" x="1497" y="3372">***</text></g>
<g id="n-p1"><circle class="gy" cx="2726" cy="1681" r="15"/><text class="nl" x="2726" y="1721">***</text></g>
<g id="n-p2"><circle class="gy" cx="2827" cy="1502" r="15"/><text class="nl" x="2827" y="1542">***</text></g>
<g id="n-p3"><circle class="gy" cx="2956" cy="1368" r="15"/><text class="nl" x="2956" y="1408">***</text></g>
<g id="n-p4"><circle class="gy" cx="3081" cy="1201" r="15"/><text class="nl" x="3081" y="1241">***</text></g>
<g id="n-p5"><circle class="gy" cx="3162" cy="1024" r="15"/><text class="nl" x="3162" y="1064">***</text></g>
<g id="n-p6"><circle class="gy" cx="3167" cy="830" r="15"/><text class="nl" x="3167" y="870">***</text></g>
<g id="n-p7"><circle class="gy" cx="3100" cy="641" r="15"/><text class="nl" x="3100" y="681">***</text></g>
<g id="n-p8"><circle class="gy" cx="2978" cy="478" r="15"/><text class="nl" x="2978" y="518">***</text></g>
<g id="n-p9"><circle class="gy" cx="2830" cy="347" r="15"/><text class="nl" x="2830" y="387">***</text></g>
<g id="n-p10"><circle class="gy" cx="2653" cy="242" r="15"/><text class="nl" x="2653" y="282">***</text></g>
<g id="n-p11"><circle class="gy" cx="2464" cy="160" r="15"/><text class="nl" x="2464" y="200">***</text></g>
<g id="n-p12"><circle class="gy" cx="2263" cy="122" r="15"/><text class="nl" x="2263" y="162">***</text></g>
<g id="n-p13"><circle class="gy" cx="2060" cy="132" r="15"/><text class="nl" x="2060" y="172">***</text></g>
<g id="n-p14"><circle class="gy" cx="1873" cy="210" r="15"/><text class="nl" x="1873" y="250">***</text></g>
<g id="n-p15"><circle class="gy" cx="1739" cy="359" r="15"/><text class="nl" x="1739" y="399">***</text></g>
<g id="n-p16"><circle class="gy" cx="1696" cy="553" r="15"/><text class="nl" x="1696" y="593">***</text></g>
<g id="n-p17"><circle class="gy" cx="1744" cy="744" r="15"/><text class="nl" x="1744" y="784">***</text></g>
<g id="n-p18"><circle class="gy" cx="1839" cy="914" r="15"/><text class="nl" x="1839" y="954">***</text></g>
<g id="n-p19"><circle class="gy" cx="1949" cy="1076" r="15"/><text class="nl" x="1949" y="1116">***</text></g>
<g id="n-p20"><circle class="gy" cx="2028" cy="1246" r="15"/><text class="nl" x="2028" y="1286">***</text></g>
<g id="n-p21"><circle class="gy" cx="2060" cy="1428" r="15"/><text class="nl" x="2060" y="1468">***</text></g>
<g id="n-p22"><circle class="gy" cx="2036" cy="1615" r="15"/><text class="nl" x="2036" y="1655">***</text></g>
<g id="n-p23"><circle class="gy" cx="1959" cy="1775" r="15"/><text class="nl" x="1959" y="1815">***</text></g>
<g id="n-p24"><circle class="gy" cx="1811" cy="1866" r="15"/><text class="nl" x="1811" y="1906">***</text></g>
<g id="n-p25"><circle class="gy" cx="1634" cy="1839" r="15"/><text class="nl" x="1634" y="1879">***</text></g>
<g id="n-p26"><circle class="gy" cx="1500" cy="1715" r="15"/><text class="nl" x="1500" y="1755">***</text></g>
<g id="n-p27"><circle class="gy" cx="1414" cy="1545" r="15"/><text class="nl" x="1414" y="1585">***</text></g>
<g id="n-p28"><circle class="gy" cx="1328" cy="1371" r="15"/><text class="nl" x="1328" y="1411">***</text></g>
<g id="n-p29"><circle class="gy" cx="1198" cy="1220" r="15"/><text class="nl" x="1198" y="1260">***</text></g>
<g id="n-p30"><circle class="gy" cx="1019" cy="1143" r="15"/><text class="nl" x="1019" y="1183">***</text></g>
<g id="n-p31"><circle class="gy" cx="828" cy="1184" r="15"/><text class="nl" x="828" y="1224">***</text></g>
<g id="n-p32"><circle class="gy" cx="696" cy="1325" r="15"/><text class="nl" x="696" y="1365">***</text></g>
<g id="n-p33"><circle class="gy" cx="629" cy="1514" r="15"/><text class="nl" x="629" y="1554">***</text></g>
<g id="n-p34"><circle class="gy" cx="612" cy="1713" r="15"/><text class="nl" x="612" y="1753">***</text></g>
<g id="n-p35"><circle class="gy" cx="608" cy="1909" r="15"/><text class="nl" x="608" y="1949">***</text></g>
<g id="n-p36"><circle class="gy" cx="596" cy="2107" r="15"/><text class="nl" x="596" y="2147">***</text></g>
<g id="n-p37"><circle class="gy" cx="574" cy="2304" r="15"/><text class="nl" x="574" y="2344">***</text></g>
<g id="n-p38"><circle class="gy" cx="550" cy="2500" r="15"/><text class="nl" x="550" y="2540">***</text></g>
<g id="n-p39"><circle class="gy" cx="521" cy="2698" r="15"/><text class="nl" x="521" y="2738">***</text></g>
<g id="n-p40"><circle class="gy" cx="505" cy="2897" r="15"/><text class="nl" x="505" y="2937">***</text></g>
<g id="n-p41"><circle class="gy" cx="500" cy="3098" r="15"/><text class="nl" x="500" y="3138">***</text></g>
<g id="n-p42"><circle class="gy" cx="497" cy="3292" r="15"/><text class="nl" x="497" y="3332">***</text></g>
<g id="n-p43"><circle class="gy" cx="497" cy="3459" r="15"/><text class="nl" x="497" y="3499">***</text></g>
</g>
</svg>
